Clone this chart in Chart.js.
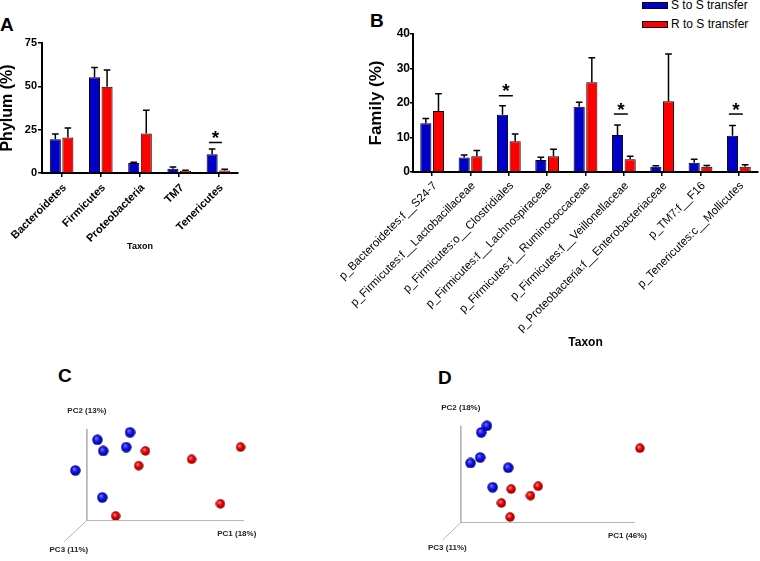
<!DOCTYPE html>
<html>
<head>
<meta charset="utf-8">
<script src="https://cdn.jsdelivr.net/npm/chart.js@4.4.1/dist/chart.umd.min.js"></script>
<style>
  body { margin: 0; background: #fff; font-family: "Liberation Sans", Arial, sans-serif; }
  #page { position: relative; width: 760px; height: 561px; overflow: hidden; background: #fff; }
  canvas { position: absolute; }
  .tag { position: absolute; font-weight: bold; font-size: 19px; line-height: 19px; color: #000; }
  .key { position: absolute; left: 642px; width: 24px; height: 5px; border: 1px solid #000; }
  .keytext { position: absolute; left: 671px; font-size: 12px; line-height: 12px; color: #000; white-space: nowrap; }
</style>
</head>
<body>
<div id="page">
  <div class="tag" style="left:0px;top:15px">A</div>
  <div class="tag" style="left:370px;top:11px">B</div>
  <div class="tag" style="left:58px;top:366px">C</div>
  <div class="tag" style="left:438px;top:368px">D</div>

  <div class="key" style="top:2px;background:#0000c8"></div>
  <div class="keytext" style="top:-1px">S to S transfer</div>
  <div class="key" style="top:21px;background:#ff0000"></div>
  <div class="keytext" style="top:18px">R to S transfer</div>

  <canvas id="chartA" width="260" height="300" style="left:0;top:0"></canvas>
  <canvas id="chartB" width="460" height="360" style="left:300px;top:0"></canvas>
  <canvas id="chartC" width="300" height="171" style="left:30px;top:390px"></canvas>
  <canvas id="chartD" width="370" height="171" style="left:390px;top:390px"></canvas>
</div>
<script>
// ---- panel A: phylum level ----
const phylumLabels = ['Bacteroidetes', 'Firmicutes', 'Proteobacteria', 'TM7', 'Tenericutes'];
const phylumS = [19.5, 55.2, 5.8, 2.5, 10.8];
const phylumS_sem = [3.0, 5.6, 0.4, 1.0, 3.0];
const phylumR = [20.5, 49.8, 22.8, 1.2, 1.5];
const phylumR_sem = [5.5, 9.6, 13.4, 0.4, 0.6];
const phylumSig = [null, null, null, null, 17.6];

// ---- panel B: family level ----
const familyLabels = [
  'p_Bacteroidetes:f__S24-7',
  'p_Firmicutes:f__Lactobacillaceae',
  'p_Firmicutes:o__Clostridiales',
  'p_Firmicutes:f__Lachnospiraceae',
  'p_Firmicutes:f__Ruminococcaceae',
  'p_Firmicutes:f__Veillonellaceae',
  'p_Proteobacteria:f__Enterobacteriaceae',
  'p_TM7:f__F16',
  'p_Tenericutes:c__Mollicutes'
];
const familyS = [14.1, 4.2, 16.6, 3.5, 18.9, 10.7, 1.5, 2.7, 10.5];
const familyS_sem = [1.4, 0.7, 2.6, 0.8, 1.3, 2.9, 0.3, 1.0, 3.0];
const familyR = [17.7, 4.6, 8.9, 4.6, 26.0, 3.7, 20.5, 1.5, 1.5];
const familyR_sem = [5.0, 1.6, 2.1, 2.0, 7.1, 0.9, 13.7, 0.4, 0.6];
const familySig = [null, null, 22.1, null, null, 16.8, null, null, 16.8];

// ---- panels C and D: PCoA points (projected PC1 / PC2 view) ----
const pcoaC_S = [[27.4, 57.9], [6.7, 53.0], [10.4, 45.7], [25.0, 48.2], [-7.3, 32.9], [9.8, 15.2]];
const pcoaC_R = [[37.2, 45.7], [32.9, 36.0], [66.5, 40.2], [97.6, 48.2], [84.8, 11.0], [18.3, 3.0]];
const pcoaC_axes = ['PC1 (18%)', 'PC2 (13%)', 'PC3 (11%)'];

const pcoaD_S = [[15.0, 57.8], [11.7, 53.9], [11.1, 38.9], [5.6, 35.6], [27.2, 32.8], [18.3, 21.1]];
const pcoaD_R = [[102.8, 44.4], [28.9, 20.0], [44.4, 21.7], [40.0, 16.1], [23.3, 11.7], [28.3, 3.3]];
const pcoaD_axes = ['PC1 (46%)', 'PC2 (18%)', 'PC3 (11%)'];

const BLUE = '#0000c8';
const RED = '#ff0000';
const FONT = '"Liberation Sans", Arial, sans-serif';

Chart.defaults.font.family = FONT;
Chart.defaults.color = '#000';

// whiskers above each bar
const errorBars = {
  id: 'errorBars',
  afterDatasetsDraw(chart) {
    const ctx = chart.ctx;
    const y = chart.scales.y;
    ctx.save();
    ctx.strokeStyle = '#000';
    ctx.lineWidth = 1.5;
    chart.data.datasets.forEach((ds, i) => {
      chart.getDatasetMeta(i).data.forEach((bar, j) => {
        const top = y.getPixelForValue(ds.data[j] + ds.errors[j]);
        const half = bar.width * 0.3;
        ctx.beginPath();
        ctx.moveTo(bar.x, bar.y);
        ctx.lineTo(bar.x, top);
        ctx.moveTo(bar.x - half, top);
        ctx.lineTo(bar.x + half, top);
        ctx.stroke();
      });
    });
    ctx.restore();
  }
};

// significance line + star
const sigMarks = {
  id: 'sigMarks',
  afterDatasetsDraw(chart, args, opts) {
    const { ctx, scales: { x, y } } = chart;
    ctx.save();
    ctx.strokeStyle = '#000';
    ctx.fillStyle = '#000';
    ctx.lineWidth = 1.5;
    ctx.font = 'bold ' + opts.starSize + 'px ' + FONT;
    ctx.textAlign = 'center';
    opts.levels.forEach((lv, i) => {
      if (lv == null) return;
      const cx = x.getPixelForValue(i) + opts.shift;
      const ly = y.getPixelForValue(lv);
      ctx.beginPath();
      ctx.moveTo(cx - opts.half, ly);
      ctx.lineTo(cx + opts.half, ly);
      ctx.stroke();
      ctx.fillText('*', cx, ly + opts.starDy);
    });
    ctx.restore();
  }
};

// category names at 45 degrees, ending under each tick
const slantLabels = {
  id: 'slantLabels',
  afterDraw(chart, args, opts) {
    const { ctx, scales: { x }, chartArea } = chart;
    ctx.save();
    ctx.font = opts.font;
    ctx.fillStyle = '#000';
    ctx.textAlign = 'right';
    ctx.textBaseline = 'middle';
    chart.data.labels.forEach((lab, i) => {
      ctx.save();
      ctx.translate(x.getPixelForValue(i) + opts.dx, chartArea.bottom + opts.dy);
      ctx.rotate(-Math.PI / 4);
      ctx.fillText(lab, 0, 0);
      ctx.restore();
    });
    ctx.restore();
  }
};

function barChart(id, o) {
  return new Chart(document.getElementById(id), {
    type: 'bar',
    data: {
      labels: o.labels,
      datasets: [
        { label: 'S to S transfer', data: o.s, errors: o.sErr, backgroundColor: BLUE, borderColor: '#000', borderWidth: 1 },
        { label: 'R to S transfer', data: o.r, errors: o.rErr, backgroundColor: RED, borderColor: '#000', borderWidth: 1 }
      ]
    },
    options: {
      responsive: false,
      animation: false,
      events: [],
      layout: { padding: o.padding },
      datasets: { bar: { categoryPercentage: o.catPct, barPercentage: o.barPct } },
      plugins: {
        legend: { display: false },
        tooltip: { enabled: false },
        sigMarks: { levels: o.sig, shift: o.sigShift, half: o.sigHalf, starSize: 19, starDy: 1.5 },
        slantLabels: { font: o.xFont, dx: 3, dy: o.labelDy }
      },
      scales: {
        x: {
          grid: { offset: false, drawOnChartArea: false, tickLength: 4, color: '#000', lineWidth: 1.5 },
          border: { color: '#000', width: 2 },
          ticks: { display: false },
          title: { display: true, text: 'Taxon', color: '#000', font: { size: o.xTitleSize, weight: 'bold' }, padding: { top: 0, bottom: o.xTitlePad } },
          afterFit(s) { s.height = o.xHeight; }
        },
        y: {
          min: 0,
          max: o.yMax,
          grid: { drawOnChartArea: false, tickLength: o.yTick, color: '#000', lineWidth: 1.5 },
          border: { color: '#000', width: 2 },
          ticks: { stepSize: o.yStep, padding: o.yPad, color: '#000', font: { size: o.yFontSize, weight: 'bold' } },
          title: { display: true, text: o.yTitle, color: '#000', font: { size: o.yTitleSize, weight: 'bold', lineHeight: 1 }, padding: { top: o.yTitlePad, bottom: 0 } },
          afterFit(s) { s.width = o.yWidth; }
        }
      }
    },
    plugins: [errorBars, sigMarks, slantLabels]
  });
}

barChart('chartA', {
  labels: phylumLabels, s: phylumS, sErr: phylumS_sem, r: phylumR, rErr: phylumR_sem, sig: phylumSig,
  padding: { top: 43, right: 22, left: 0, bottom: 0 },
  catPct: 0.64, barPct: 0.88, sigShift: -3, sigHalf: 6.5,
  xFont: 'bold 11px ' + FONT, labelDy: 13, xTitleSize: 9, xTitlePad: 48, xHeight: 127,
  yMax: 75, yStep: 25, yTick: 4, yPad: 1, yFontSize: 11,
  yTitle: 'Phylum (%)', yTitleSize: 16, yTitlePad: 0, yWidth: 42
});

barChart('chartB', {
  labels: familyLabels, s: familyS, sErr: familyS_sem, r: familyR, rErr: familyR_sem, sig: familySig,
  padding: { top: 34, right: 2, left: 60, bottom: 0 },
  catPct: 0.66, barPct: 0.88, sigShift: -3, sigHalf: 7,
  xFont: '11.5px ' + FONT, labelDy: 12, xTitleSize: 12, xTitlePad: 10, xHeight: 188,
  yMax: 40, yStep: 10, yTick: 3, yPad: 0, yFontSize: 12,
  yTitle: 'Family (%)', yTitleSize: 17, yTitlePad: 8, yWidth: 53
});

// shaded ball used for the PCoA points
function sphere(light, mid, dark, d) {
  const c = document.createElement('canvas');
  c.width = c.height = d;
  const g = c.getContext('2d');
  const r = d / 2;
  const grad = g.createRadialGradient(r * 0.75, r * 0.7, r * 0.05, r, r, r);
  grad.addColorStop(0, light);
  grad.addColorStop(0.45, mid);
  grad.addColorStop(1, dark);
  g.fillStyle = grad;
  g.beginPath();
  g.arc(r, r, r - 0.3, 0, Math.PI * 2);
  g.fill();
  return c;
}
const blueBall = sphere('#7a7aff', '#1414f0', '#000080', 11);
const redBall = sphere('#ff8a8a', '#f00000', '#7a0000', 10);

const axisLabels = {
  id: 'axisLabels',
  afterDatasetsDraw(chart, args, opts) {
    const { ctx, scales: { x, y } } = chart;
    const f = opts.frame;
    ctx.save();
    ctx.fillStyle = '#222';
    ctx.font = 'bold 8px ' + FONT;
    ctx.textBaseline = 'middle';
    ctx.textAlign = 'right';
    ctx.fillText(opts.text[0], x.getPixelForValue(f.pc1) + 12, y.getPixelForValue(0) + 13);
    ctx.textAlign = 'center';
    ctx.fillText(opts.text[1], x.getPixelForValue(0), y.getPixelForValue(f.pc2) - 18);
    ctx.fillText(opts.text[2], x.getPixelForValue(f.pc3[0]) + 5, y.getPixelForValue(f.pc3[1]) + 8);
    ctx.restore();
  }
};

function pcoaChart(id, sPts, rPts, axes, frame, view) {
  const toXY = p => ({ x: p[0], y: p[1] });
  const line = pts => ({
    type: 'line', data: pts, borderColor: '#b4b4b4', borderWidth: 1,
    pointRadius: 0, fill: false, tension: 0
  });
  return new Chart(document.getElementById(id), {
    type: 'scatter',
    data: {
      datasets: [
        line([{ x: 0, y: frame.pc2 }, { x: 0, y: 0 }, { x: frame.pc1, y: 0 }]),
        line([{ x: 0, y: 0 }, { x: frame.pc3[0], y: frame.pc3[1] }]),
        { label: 'S to S transfer', data: sPts.map(toXY), pointStyle: blueBall, pointRadius: 5 },
        { label: 'R to S transfer', data: rPts.map(toXY), pointStyle: redBall, pointRadius: 5 }
      ]
    },
    options: {
      responsive: false,
      animation: false,
      events: [],
      layout: { padding: 0 },
      plugins: {
        legend: { display: false },
        tooltip: { enabled: false },
        axisLabels: { text: axes, frame: frame }
      },
      scales: {
        x: { type: 'linear', display: false, min: view[0], max: view[1] },
        y: { type: 'linear', display: false, min: view[2], max: view[3] }
      }
    },
    plugins: [axisLabels]
  });
}

pcoaChart('chartC', pcoaC_S, pcoaC_R, pcoaC_axes,
  { pc1: 100, pc2: 60, pc3: [-14.6, -14] }, [-32.3, 150.6, -22.6, 81.7]);
pcoaChart('chartD', pcoaD_S, pcoaD_R, pcoaD_axes,
  { pc1: 100, pc2: 57.8, pc3: [-10.6, -10.6] }, [-37.2, 168.3, -19.4, 75.6]);
</script>
</body>
</html>
